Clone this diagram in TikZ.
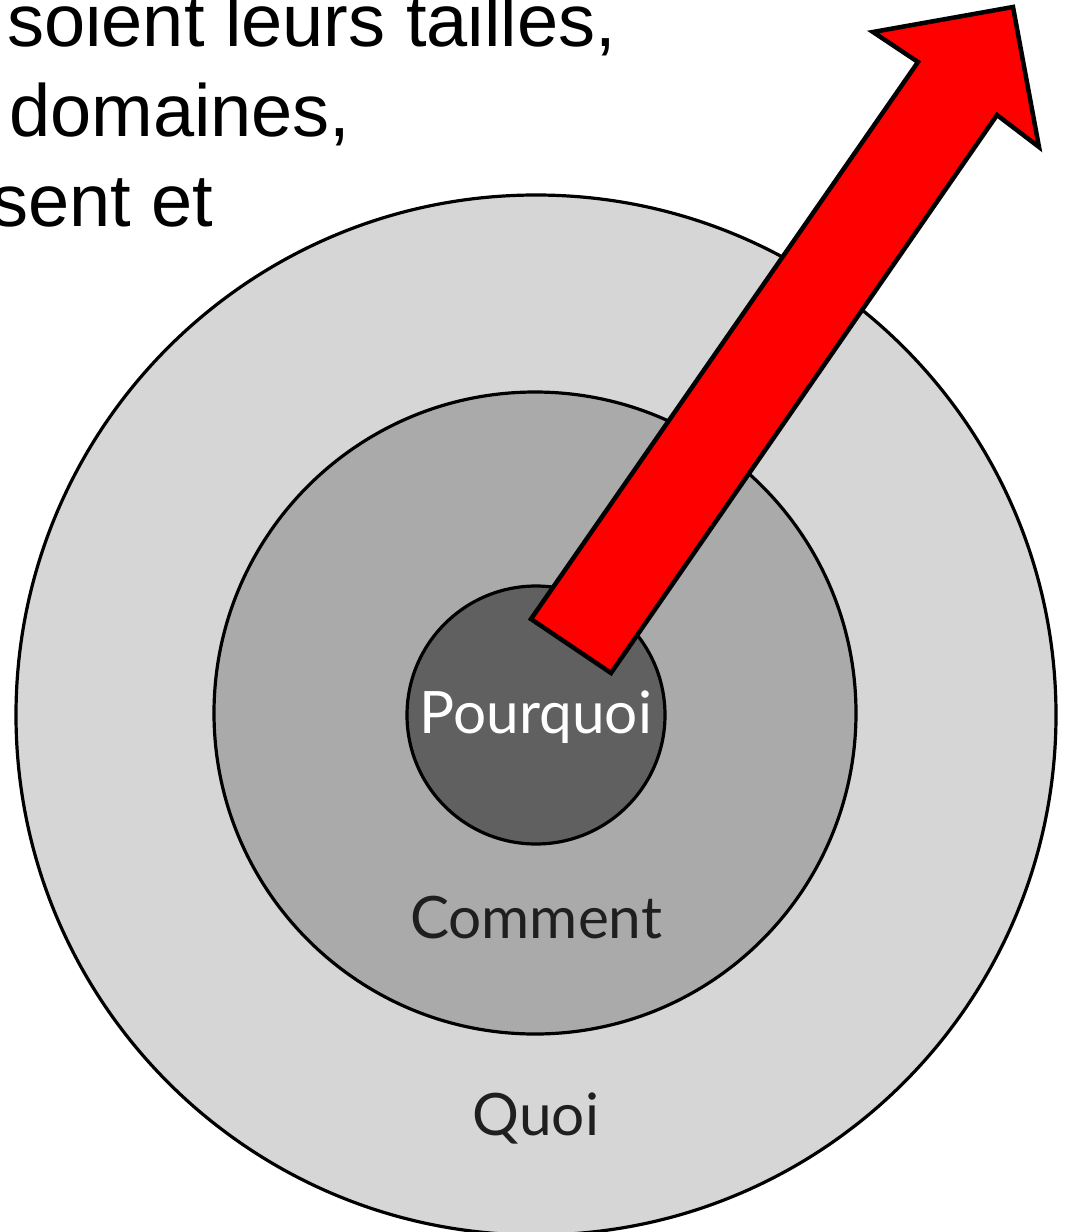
\documentclass[tikz,border=0pt]{standalone}
\usepackage{fontspec}
\setmainfont{Liberation Sans}
\newfontfamily\gillfont{Lato}
\definecolor{ringouter}{HTML}{D6D6D6}
\definecolor{ringmid}{HTML}{AAAAAA}
\definecolor{ringinner}{HTML}{606060}
\definecolor{arrowred}{HTML}{FF0000}
\begin{document}
\begin{tikzpicture}[x=1pt,y=-1pt,
  ring/.style={circle,draw=black,line width=3.2pt,inner sep=0pt},
  lbl/.style={font=\gillfont\fontsize{58.5}{64}\selectfont,inner sep=0pt},
  toptext/.style={font=\fontsize{74}{84}\selectfont,anchor=base west,inner sep=0pt}]
\useasboundingbox (0,0) rectangle (1068,1232);
\begin{scope}
\clip (0,0) rectangle (1068,1232);
\node[ring,fill=ringouter,minimum size=1040pt] (outer) at (536,715) {};
\node[ring,fill=ringmid,minimum size=642pt] (middle) at (535,713) {};
\node[ring,fill=ringinner,minimum size=258pt] (inner) at (536,715) {};
\node[lbl,text=white] (why) at (536,717) {Pourquoi};
\node[lbl,text=black!88] (how) at (536,918) {Comment};
\node[lbl,text=black!88] (what) at (536,1118) {Quoi};
\draw[fill=arrowred,draw=black,line width=4.5pt,line join=miter]
  (531,619) -- (918,62) -- (873,32) -- (1013,7) -- (1039,147) -- (997,115) -- (611,673) -- cycle;
\node[toptext] (t1) at (7,46) {soient leurs tailles,};
\node[toptext] (t2) at (9,136) {domaines,};
\node[toptext] (t3) at (-9,226) {sent et};
\end{scope}
\end{tikzpicture}
\end{document}
